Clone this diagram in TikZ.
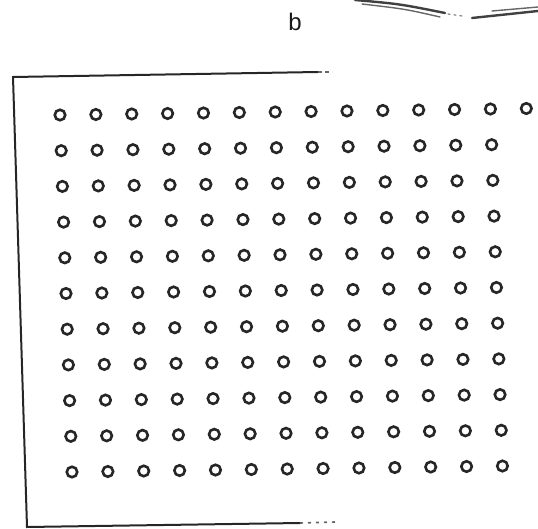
\documentclass[tikz,border=0pt]{standalone}
\usepackage{fontspec}
\setmainfont{Liberation Sans}
\begin{document}
\begin{tikzpicture}[x=1pt,y=-1pt,
  hole/.style={circle,draw=black!85,line width=2.6pt,minimum size=10.5pt,inner sep=0pt},
  edgeline/.style={line width=2pt,draw=black!85},
  faint/.style={line width=1.6pt,draw=black!60},
  stroke/.style={line width=2.4pt,draw=black!75,line cap=round}]
\useasboundingbox (0,0) rectangle (538,529);
% label
\node[font=\fontsize{24}{24}\selectfont,text=black!90] (lab) at (295,22) {b};
% frame
\coordinate (tl) at (13,77);
\coordinate (bl) at (27,527);
\coordinate (tr) at (318,72);
\coordinate (br) at (300,523);
\draw[edgeline] (tr) -- (tl) -- (bl) -- (br);
\draw[faint,dash pattern=on 4pt off 3pt] (318,72) -- (332,72);
\draw[faint,dash pattern=on 3pt off 5pt] (300,523) -- (335,522);
% holes
\foreach \i in {0,...,10} {
  \pgfmathtruncatemacro\ncol{\i==0 ? 13 : 12}
  \foreach \j in {0,...,\ncol} {
    \node[hole] (c-\i-\j) at ({60+35.87*\j+1.2*\i},{115-0.5*\j+35.7*\i}) {};
  }
}
% top-right scan strokes
\draw[stroke] (355,0) .. controls (400,4) .. (445,13);
\draw[stroke,line width=1.4pt,black!60] (362,4) .. controls (405,9) .. (440,17);
\draw[stroke,line width=1.2pt,black!50,dash pattern=on 2pt off 4pt] (448,14) -- (462,16);
\draw[stroke] (472,18) -- (538,11);
\draw[stroke,line width=1.4pt,black!60] (492,11) -- (538,7);
\end{tikzpicture}
\end{document}
